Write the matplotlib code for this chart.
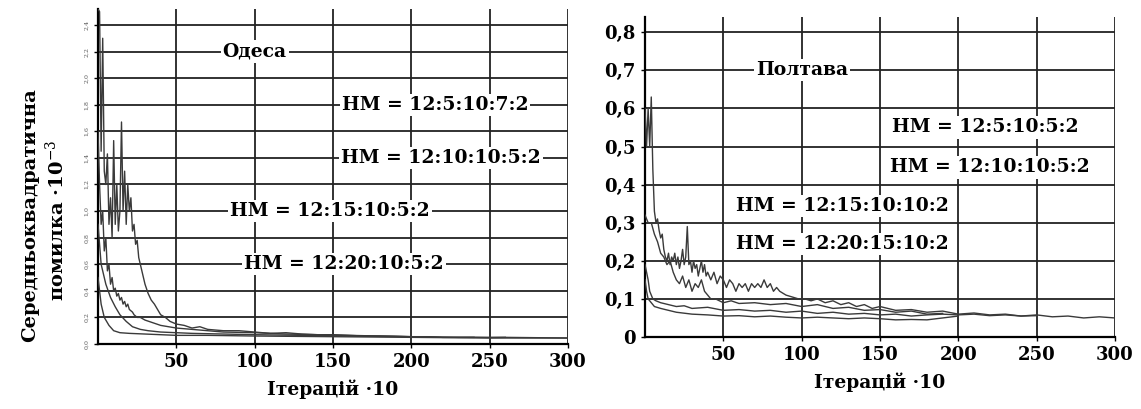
import numpy as np
import matplotlib
matplotlib.use("Agg")
import matplotlib.pyplot as plt

# -------------------------
# Data: Odesa (left), MSE x 10^-3
# -------------------------
od_x_a = [0, 1, 2, 3, 4, 5, 6, 7, 8, 9,
          10, 11, 12, 13, 14, 15, 16, 17, 18, 19,
          20, 21, 22, 23, 24, 25, 26, 28, 30, 32,
          34, 36, 38, 40, 43, 46, 50, 55, 60, 65,
          70, 80, 90, 100, 110, 120, 130, 140, 150, 160,
          170, 180, 190, 200, 210, 220, 230, 240, 250, 260]
od_y_a = [2.52, 2.5, 1.45, 2.3, 1.3, 1.2, 1.43, 0.9, 1.1, 0.8,
          1.53, 0.9, 1.2, 0.85, 1.0, 1.67, 1.0, 1.3, 0.9, 1.2,
          1.0, 1.1, 0.85, 0.9, 0.75, 0.78, 0.65, 0.55, 0.45, 0.38,
          0.33, 0.3, 0.26, 0.22, 0.2, 0.17, 0.15, 0.14, 0.12, 0.13,
          0.11, 0.1, 0.1, 0.09, 0.08, 0.085, 0.075, 0.07, 0.07, 0.065,
          0.06, 0.06, 0.058, 0.055, 0.055, 0.05, 0.05, 0.05, 0.048, 0.05]

od_x_b = [0, 1, 2, 3, 4, 5, 6, 7, 8, 9,
          10, 11, 12, 13, 14, 15, 16, 17, 18, 19,
          20, 21, 22, 23, 25, 27, 30, 35, 40, 45,
          50, 60, 70, 80, 100, 120, 140, 160, 180, 200,
          220, 240]
od_y_b = [1.6, 1.2, 0.9, 1.0, 0.7, 0.8, 0.55, 0.6, 0.45, 0.5,
          0.4, 0.42, 0.36, 0.38, 0.33, 0.35, 0.3, 0.32, 0.28, 0.3,
          0.26, 0.25, 0.24, 0.22, 0.2, 0.2, 0.18, 0.16, 0.14, 0.13,
          0.12, 0.11, 0.1, 0.09, 0.085, 0.075, 0.07, 0.065, 0.06, 0.055,
          0.05, 0.05]

od_x_c = [0, 2, 5, 8, 11, 14, 18, 22, 27, 32,
          40, 50, 60, 80, 100, 130, 160, 200, 230, 260, 300]
od_y_c = [0.9, 0.6, 0.45, 0.35, 0.28, 0.22, 0.17, 0.13, 0.11, 0.1,
          0.09, 0.085, 0.08, 0.075, 0.07, 0.065, 0.06, 0.055, 0.05, 0.05, 0.045]

od_x_d = [0, 2, 4, 7, 10, 14, 20, 30, 40, 50,
          70, 100, 150, 200, 250, 300]
od_y_d = [0.5, 0.3, 0.2, 0.14, 0.1, 0.085, 0.08, 0.075, 0.07, 0.065,
          0.065, 0.06, 0.055, 0.05, 0.045, 0.045]

# -------------------------
# Data: Poltava (right), MSE
# -------------------------
pl_x_a = [0, 1, 2, 3, 4, 5, 6, 7, 8, 9,
          10, 11, 12, 13, 14, 15, 16, 17, 18, 19,
          20, 21, 22, 23, 24, 25, 26, 27, 28, 29,
          30, 31, 32, 33, 34, 35, 36, 37, 38, 39,
          40, 42, 44, 46, 48, 50, 52, 54, 56, 58,
          60, 62, 64, 66, 68, 70, 72, 74, 76, 78,
          80, 82, 84, 86, 88, 90, 94, 98, 102, 106,
          110, 115, 120, 125, 130, 135, 140, 145, 150, 160,
          170, 180, 190, 200, 210, 220, 230, 240, 250, 260,
          270, 280, 290, 300]
pl_y_a = [0.6, 0.5, 0.6, 0.5, 0.63, 0.44, 0.33, 0.3, 0.31, 0.28,
          0.26, 0.27, 0.23, 0.21, 0.2, 0.22, 0.19, 0.21, 0.2, 0.22,
          0.19, 0.21, 0.18, 0.2, 0.23, 0.19, 0.21, 0.29, 0.19, 0.2,
          0.17, 0.2, 0.18, 0.19, 0.16, 0.18, 0.2, 0.17, 0.19, 0.16,
          0.17, 0.15, 0.17, 0.14, 0.16, 0.15, 0.13, 0.15, 0.14, 0.12,
          0.14, 0.13, 0.14, 0.12, 0.14, 0.13, 0.14, 0.13, 0.15, 0.13,
          0.14, 0.12, 0.13, 0.12, 0.115, 0.11, 0.105, 0.1, 0.1, 0.095,
          0.1, 0.09, 0.095, 0.085, 0.09, 0.08, 0.085, 0.075, 0.08, 0.07,
          0.072, 0.065, 0.068, 0.06, 0.063, 0.058, 0.06, 0.055, 0.058, 0.053,
          0.055, 0.05, 0.053, 0.05]

pl_x_b = [0, 2, 4, 6, 8, 10, 12, 14, 16, 18,
          20, 22, 24, 26, 28, 30, 32, 34, 36, 38,
          40, 42, 45, 50, 55, 60, 70, 80, 90, 100,
          110, 120, 130, 140, 150, 160, 170, 180, 190]
pl_y_b = [0.32, 0.3, 0.3, 0.27, 0.25, 0.22, 0.21, 0.19, 0.2, 0.17,
          0.15, 0.14, 0.16, 0.13, 0.15, 0.12, 0.14, 0.13, 0.15, 0.12,
          0.11, 0.1, 0.1, 0.09, 0.095, 0.088, 0.09, 0.085, 0.088, 0.08,
          0.085, 0.075, 0.078, 0.07, 0.072, 0.065, 0.068, 0.06, 0.062]

pl_x_c = [0, 1, 2, 3, 4, 5, 7, 10, 15, 20,
          25, 30, 40, 50, 60, 70, 80, 90, 100, 110,
          120, 130, 140, 150, 160, 170, 180, 190, 200, 210,
          220, 230, 240, 250]
pl_y_c = [0.19, 0.17, 0.15, 0.12, 0.11, 0.1, 0.095, 0.09, 0.085, 0.08,
          0.082, 0.075, 0.078, 0.07, 0.072, 0.068, 0.07, 0.065, 0.068, 0.062,
          0.065, 0.06, 0.062, 0.058, 0.06, 0.055, 0.058, 0.06, 0.058, 0.06,
          0.056, 0.058, 0.055, 0.056]

pl_x_d = [0, 1, 2, 4, 6, 10, 15, 20, 30, 40,
          50, 60, 70, 80, 90, 100, 110, 120, 130, 140,
          150, 160, 170, 180, 190, 200]
pl_y_d = [0.15, 0.12, 0.1, 0.09, 0.08, 0.075, 0.07, 0.065, 0.06, 0.058,
          0.055, 0.056, 0.053, 0.055, 0.052, 0.05, 0.052, 0.05, 0.048, 0.05,
          0.048, 0.045, 0.046, 0.045, 0.05, 0.055]

x_ticks = [50, 100, 150, 200, 250, 300]
od_y_ticks = [0.0, 0.2, 0.4, 0.6, 0.8, 1.0, 1.2, 1.4, 1.6, 1.8, 2.0, 2.2, 2.4]
pl_y_ticks = [0, 0.1, 0.2, 0.3, 0.4, 0.5, 0.6, 0.7, 0.8]
pl_y_labels = ["0", "0,1", "0,2", "0,3", "0,4", "0,5", "0,6", "0,7", "0,8"]

od_labels = ["НМ = 12:5:10:7:2", "НМ = 12:10:10:5:2",
             "НМ = 12:15:10:5:2", "НМ = 12:20:10:5:2"]
pl_labels = ["НМ = 12:5:10:5:2", "НМ = 12:10:10:5:2",
             "НМ = 12:15:10:10:2", "НМ = 12:20:15:10:2"]

# -------------------------
# Figure
# -------------------------
plt.rcParams['font.family'] = ['DejaVu Serif']
plt.rcParams['mathtext.fontset'] = 'dejavuserif'

fig = plt.figure(figsize=(11.41, 4.09), dpi=100)
ax1 = fig.add_axes([98 / 1141, 65 / 409, 470 / 1141, 335 / 409])
ax2 = fig.add_axes([645 / 1141, 72 / 409, 470 / 1141, 320 / 409])

line_kw = dict(color='#3a3a3a', lw=1.0, zorder=3)
box = dict(facecolor='white', edgecolor='none', pad=1.5)
txt_kw = dict(fontsize=13.5, fontweight='bold', ha='center', va='center',
              bbox=box, zorder=5)


def style_axes(ax):
    ax.set_xlim(0, 300)
    ax.set_xticks(x_ticks)
    ax.grid(True, color='#222222', lw=1.3, zorder=1)
    for s in ['top', 'right']:
        ax.spines[s].set_visible(False)
    for s in ['left', 'bottom']:
        ax.spines[s].set_linewidth(1.6)
    ax.tick_params(axis='both', length=3, width=1, direction='out')
    for lab in ax.get_xticklabels():
        lab.set_fontweight('bold')
        lab.set_fontsize(13)
    ax.set_xlabel("Ітерацій ·10", fontsize=13.5, fontweight='bold', labelpad=6)


# Left: Odesa
ax1.plot(od_x_a, od_y_a, **line_kw)
ax1.plot(od_x_b, od_y_b, **line_kw)
ax1.plot(od_x_c, od_y_c, **line_kw)
ax1.plot(od_x_d, od_y_d, **line_kw)
ax1.set_ylim(0, 2.52)
ax1.set_yticks(od_y_ticks)
ax1.set_yticklabels([f"{v:.1f}".replace('.', ',') for v in od_y_ticks],
                    rotation=90, fontsize=4.5, color='#555555', va='center')
style_axes(ax1)
ax1.text(100, 2.2, "Одеса", **txt_kw)
ax1.text(215, 1.8, od_labels[0], **txt_kw)
ax1.text(219, 1.4, od_labels[1], **txt_kw)
ax1.text(148, 1.0, od_labels[2], **txt_kw)
ax1.text(157, 0.6, od_labels[3], **txt_kw)

# Right: Poltava
ax2.plot(pl_x_a, pl_y_a, **line_kw)
ax2.plot(pl_x_b, pl_y_b, **line_kw)
ax2.plot(pl_x_c, pl_y_c, **line_kw)
ax2.plot(pl_x_d, pl_y_d, **line_kw)
ax2.set_ylim(0, 0.84)
ax2.set_yticks(pl_y_ticks)
ax2.set_yticklabels(pl_y_labels, fontsize=13, fontweight='bold')
style_axes(ax2)
ax2.text(100, 0.7, "Полтава", **txt_kw)
ax2.text(217, 0.55, pl_labels[0], **txt_kw)
ax2.text(220, 0.445, pl_labels[1], **txt_kw)
ax2.text(126, 0.345, pl_labels[2], **txt_kw)
ax2.text(126, 0.245, pl_labels[3], **txt_kw)

# y-axis title for the left panel
fig.text(30 / 1141, 1 - 215 / 409, "Середньоквадратична", rotation=90,
         fontsize=14, fontweight='bold', ha='center', va='center')
fig.text(56 / 1141, 1 - 220 / 409, "помилка ·10$^{-3}$", rotation=90,
         fontsize=14, fontweight='bold', ha='center', va='center')

fig.savefig("out.png", dpi=100, facecolor='white')
